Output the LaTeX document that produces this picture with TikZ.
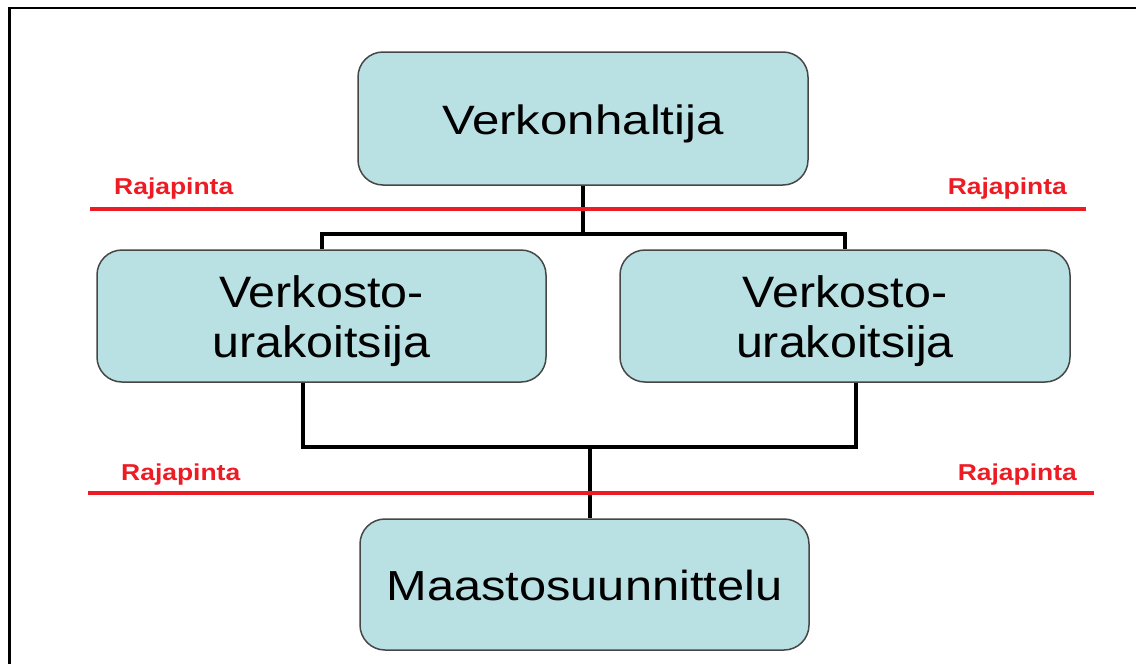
\documentclass[tikz,border=0pt]{standalone}
\usepackage{fontspec}
\setmainfont{Liberation Sans}
\usepackage{graphicx}
\definecolor{boxfill}{RGB}{185,224,227}
\definecolor{boxline}{RGB}{70,70,70}
\definecolor{rajared}{RGB}{237,28,36}
\tikzset{
  orgbox/.style={draw=boxline, line width=1.5pt, fill=boxfill, rounded corners=25pt, inner sep=0pt},
  conn/.style={draw=black, line width=4pt},
  rajaline/.style={draw=rajared, line width=4pt},
  rajalabel/.style={text=rajared, inner sep=0pt, font=\fontsize{23}{27}\selectfont\bfseries},
  frameline/.style={draw=black, line width=2.5pt},
}
\begin{document}
\begin{tikzpicture}[x=1pt,y=-1pt]
\useasboundingbox (0,0) rectangle (1136,664);
% outer frame
\draw[frameline] (9.5,664) -- (9.5,7.8) -- (1136,7.8);

% boxes
\node[orgbox, minimum width=450pt, minimum height=133pt, text height=37pt, text depth=6pt,
      font=\fontsize{41}{49}\selectfont] (top) at (583,118.5) {\scalebox{1.2}[1]{Verkonhaltija}};
\node[orgbox, minimum width=449pt, minimum height=132pt, font=\fontsize{44}{50}\selectfont] (l) at (321.5,316)
  {\raisebox{-6pt}[\height][\depth]{\scalebox{1.1}[1]{\begin{tabular}{@{}c@{}}Verkosto-\\urakoitsija\end{tabular}}}};
\node[orgbox, minimum width=450pt, minimum height=132pt, font=\fontsize{44}{50}\selectfont] (r) at (845,316)
  {\raisebox{-6pt}[\height][\depth]{\scalebox{1.1}[1]{\begin{tabular}{@{}c@{}}Verkosto-\\urakoitsija\end{tabular}}}};
\node[orgbox, minimum width=449pt, minimum height=131pt, text height=38pt, text depth=7pt,
      font=\fontsize{42}{50}\selectfont] (b) at (584.5,584.5) {\scalebox{1.16}[1]{Maastosuunnittelu}};

% connectors
\draw[conn] (top.south) -- ++(0,48) coordinate (j1);
\draw[conn] (l.north) |- (j1) -| (r.north);
\coordinate (j2) at (590,447);
\draw[conn] ([xshift=-19pt]l.south) |- (j2) -| ([xshift=11pt]r.south);
\draw[conn] (j2) -- ([xshift=5.5pt]b.north);

% interface lines
\draw[rajaline] (90,209) -- (1086,209);
\draw[rajaline] (88,492.5) -- (1094,492.5);
\node[rajalabel, anchor=base west] (r1) at (114,194) {\scalebox{1.15}[1]{Rajapinta}};
\node[rajalabel, anchor=base east] (r2) at (1067,194) {\scalebox{1.15}[1]{Rajapinta}};
\node[rajalabel, anchor=base west] (r3) at (121,480) {\scalebox{1.15}[1]{Rajapinta}};
\node[rajalabel, anchor=base east] (r4) at (1077,480) {\scalebox{1.15}[1]{Rajapinta}};
\end{tikzpicture}
\end{document}
